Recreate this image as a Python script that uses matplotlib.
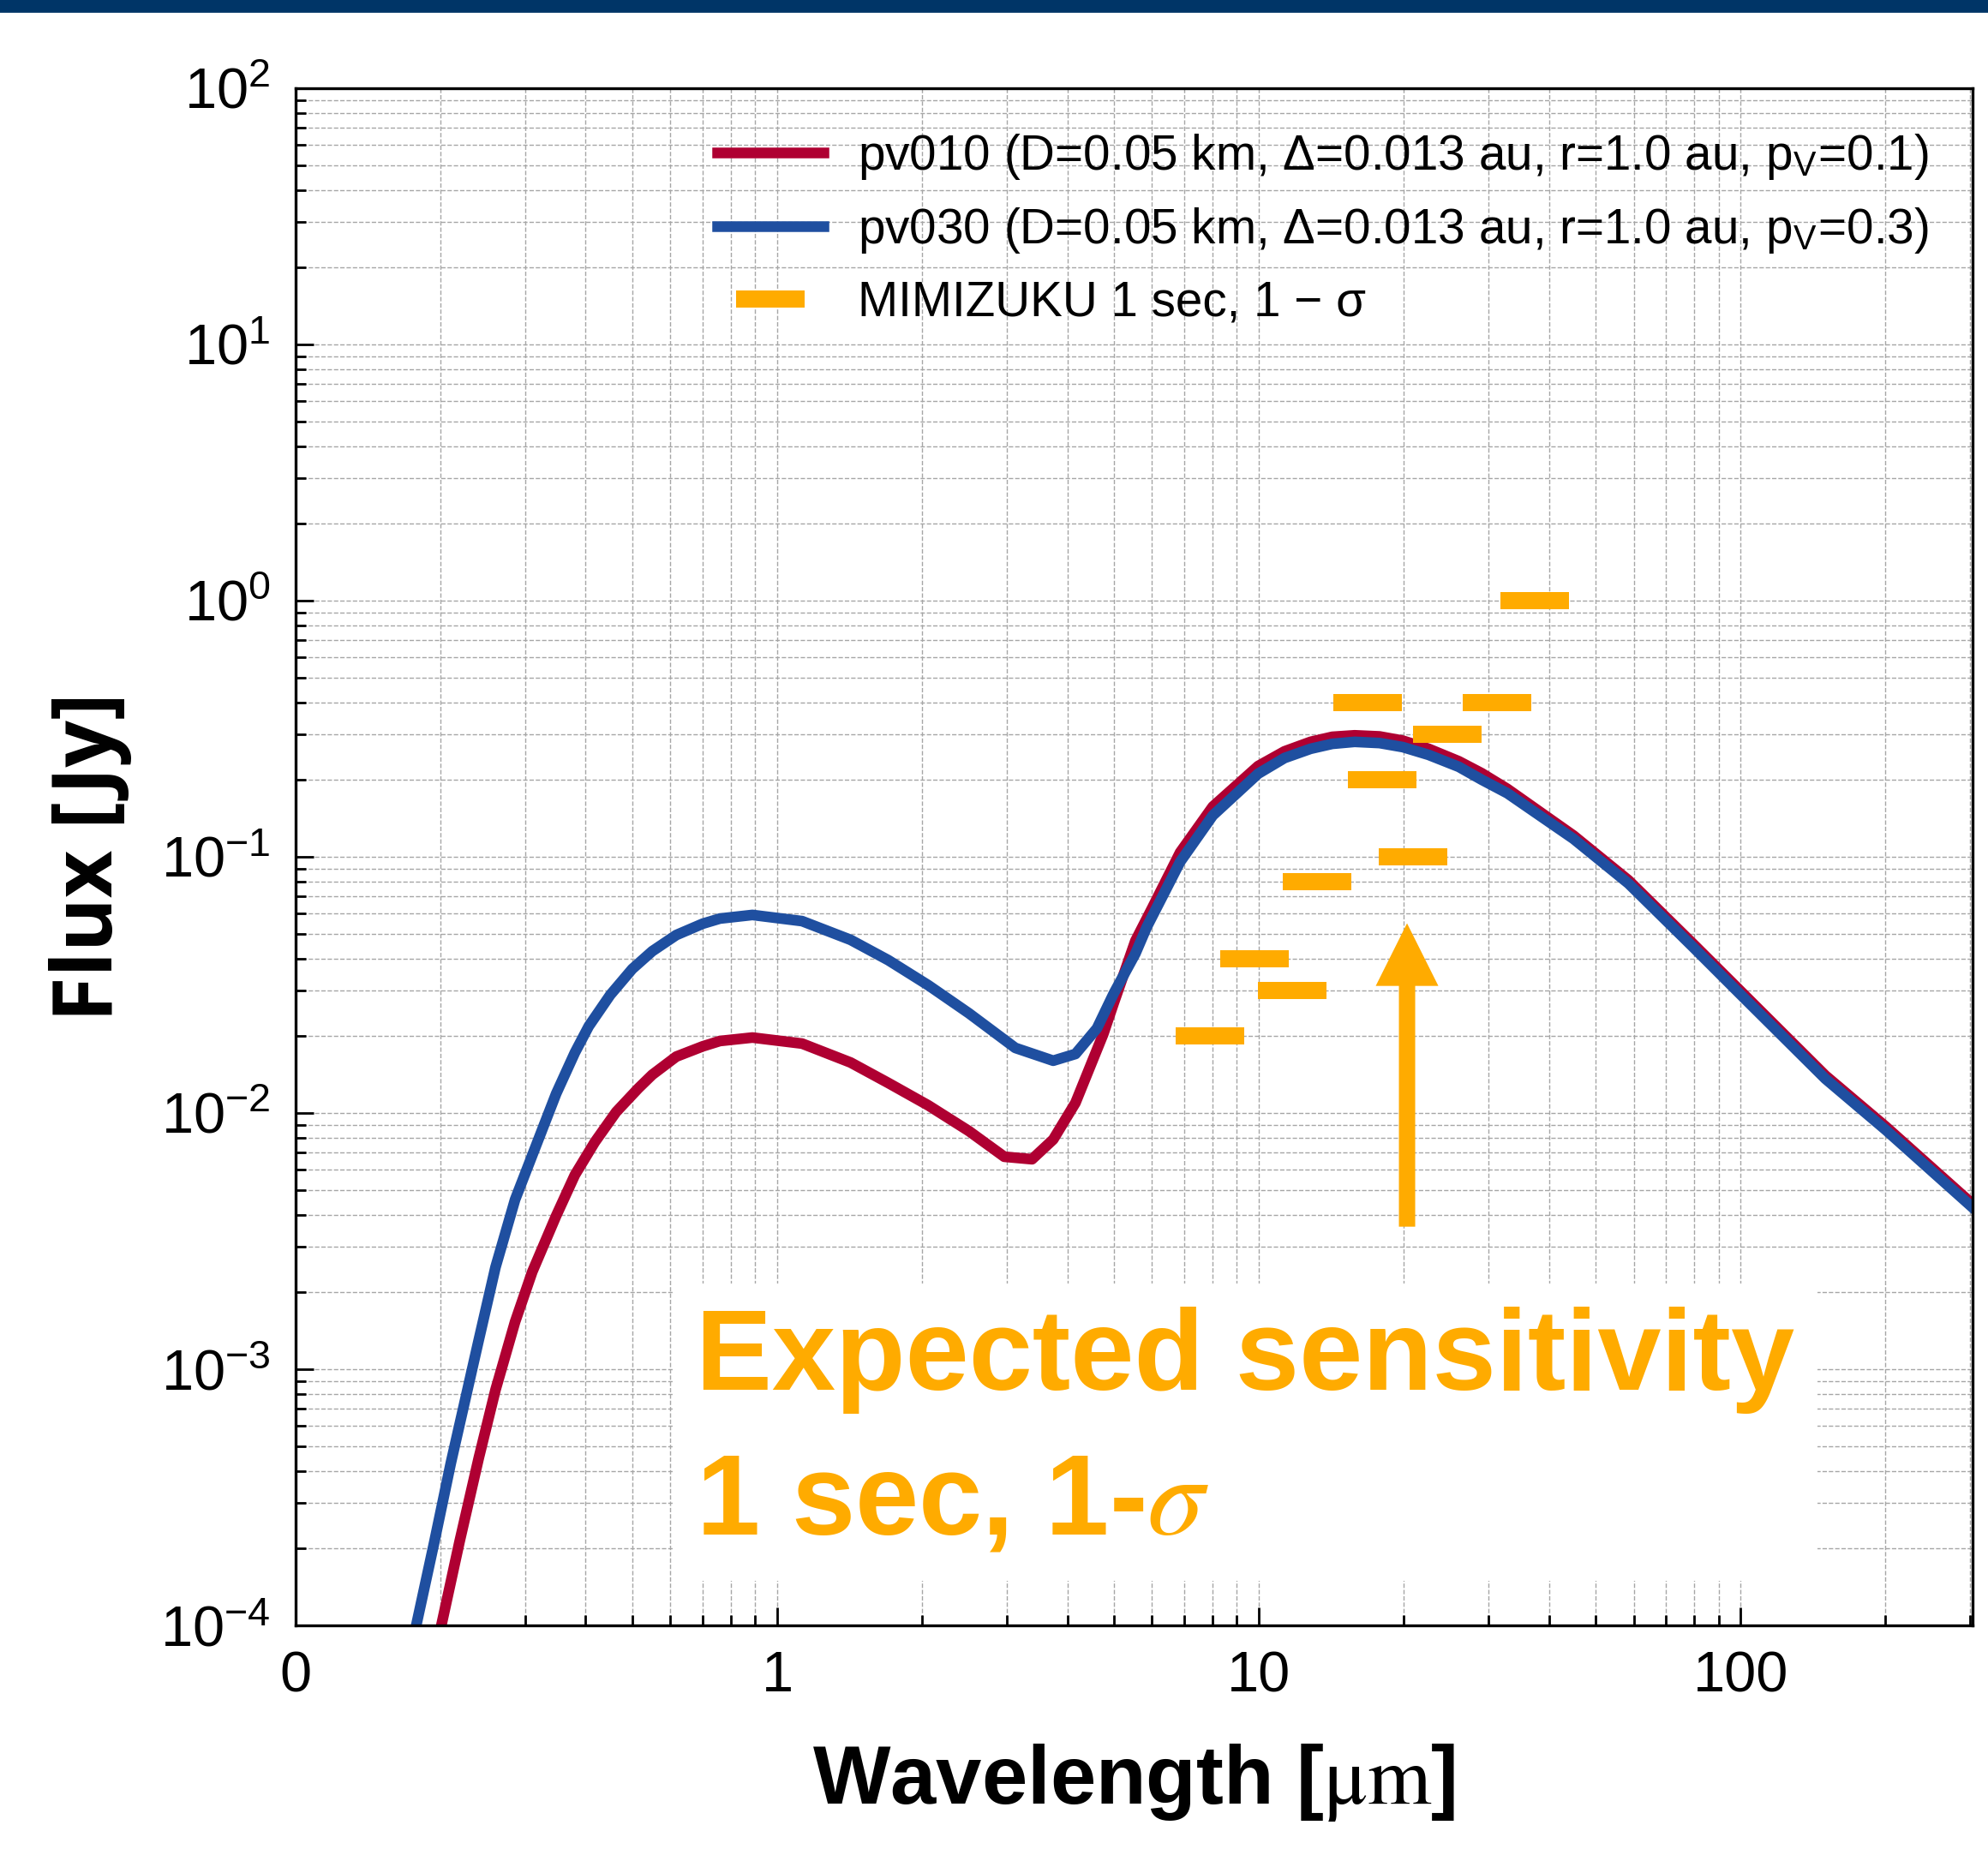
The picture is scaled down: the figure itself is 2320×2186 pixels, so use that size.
import numpy as np
import matplotlib
matplotlib.use('Agg')
import matplotlib.pyplot as plt
from matplotlib.patches import Rectangle
from matplotlib.ticker import FixedLocator, FixedFormatter, LogLocator, NullFormatter

plt.rcParams['font.family'] = ['Liberation Sans', 'DejaVu Sans']
plt.rcParams['mathtext.fontset'] = 'stix'

# model SEDs (wavelength in um, flux in Jy)
lam_pv010 = [0.19, 0.2007, 0.2188, 0.24, 0.26, 0.2855, 0.31, 0.3475, 0.38, 0.418,
             0.463, 0.515, 0.55, 0.617, 0.7, 0.76, 0.888, 1.126, 1.42, 1.7,
             2.06, 2.5, 2.96, 3.38, 3.74, 4.16, 4.75, 5.0, 5.54, 6.0,
             6.86, 8.02, 9.96, 11.3, 12.8, 14.2, 15.8, 17.8, 19.9, 22.5,
             26.0, 29.0, 32.8, 45.0, 58.5, 80.0, 100.0, 150.0, 200.0, 303.0, 320.0]
flux_pv010 = [6.1e-5, 1.0e-4, 2.11e-4, 4.5e-4, 8.3e-4, 1.53e-3, 2.4e-3, 3.97e-3, 5.73e-3, 7.7e-3,
              0.0101, 0.0125, 0.0141, 0.0166, 0.0182, 0.0191, 0.0197, 0.01866, 0.01574, 0.0131,
              0.0107, 0.0085, 0.00675, 0.0066, 0.00788, 0.01096, 0.0203, 0.027, 0.047, 0.063,
              0.104, 0.157, 0.226, 0.258, 0.281, 0.294, 0.298, 0.295, 0.284, 0.264,
              0.236, 0.212, 0.184, 0.121, 0.081, 0.0454, 0.0299, 0.014, 0.00886, 0.00441, 0.00402]

lam_pv030 = [0.17, 0.178, 0.194, 0.21, 0.24, 0.26, 0.2855, 0.3475, 0.38, 0.406,
             0.45, 0.5, 0.55, 0.617, 0.7, 0.76, 0.888, 1.126, 1.42, 1.7,
             2.06, 2.5, 3.12, 3.74, 4.16, 4.61, 5.0, 5.54, 5.85, 6.86,
             8.02, 9.96, 11.3, 12.8, 14.2, 15.8, 17.8, 19.9, 22.5, 26.0,
             29.0, 32.8, 45.0, 58.5, 80.0, 100.0, 150.0, 200.0, 303.0, 320.0]
flux_pv030 = [6.7e-5, 1.0e-4, 2.11e-4, 4.3e-4, 1.3e-3, 2.5e-3, 4.59e-3, 0.0119, 0.0172, 0.0218,
              0.0289, 0.0365, 0.0428, 0.0495, 0.0548, 0.0574, 0.0593, 0.0561, 0.0474, 0.0395,
              0.0315, 0.0245, 0.01795, 0.016, 0.017, 0.0214, 0.0294, 0.0419, 0.0532, 0.0955,
              0.145, 0.211, 0.243, 0.264, 0.276, 0.281, 0.278, 0.268, 0.25, 0.2245,
              0.2, 0.177, 0.1175, 0.0787, 0.0441, 0.029, 0.0136, 0.0086, 0.00428, 0.0039]

# MIMIZUKU 1 sec 1-sigma sensitivity
lam_mimizuku = [7.9, 9.8, 11.7, 13.2, 16.8, 18.0, 20.9, 24.6, 31.2, 37.3]
sens_mimizuku = [0.02, 0.04, 0.03, 0.08, 0.4, 0.2, 0.1, 0.3, 0.4, 1.0]

arrow_lam = 20.3
arrow_flux = [3.6e-3, 0.055]

labels = ['pv010 (D=0.05 km, Δ=0.013 au, r=1.0 au, p$_\\mathregular{V}$=0.1)',
          'pv030 (D=0.05 km, Δ=0.013 au, r=1.0 au, p$_\\mathregular{V}$=0.3)',
          'MIMIZUKU 1 sec, 1 − σ']

xtick_vals = [0.1, 1, 10, 100]
xtick_labels = ['0', '1', '10', '100']

red = '#AF0032'
blue = '#1F4FA0'
orange = '#FFAB00'

fig = plt.figure(figsize=(11.6, 10.93), dpi=200)
ax = fig.add_axes([0.1487, 0.1322, 0.8435, 0.8207])
fig.patches.append(Rectangle((0, 1 - 13 / 2186), 1, 13 / 2186, transform=fig.transFigure,
                             color='#003567', zorder=10))

ax.plot(lam_pv010, flux_pv010, color=red, lw=4.5, label=labels[0])
ax.plot(lam_pv030, flux_pv030, color=blue, lw=4.5, label=labels[1])
ax.plot(lam_mimizuku, sens_mimizuku, ls='none', marker='_', ms=29, mew=7.2,
        color=orange, label=labels[2])

ax.annotate('', xy=(arrow_lam, arrow_flux[1]), xytext=(arrow_lam, arrow_flux[0]),
            arrowprops=dict(arrowstyle='simple,head_length=1,head_width=1,tail_width=0.26',
                            mutation_scale=26.3, color=orange, lw=0, shrinkA=0, shrinkB=0))

ax.text(0.2386, 0.2074, 'Expected sensitivity\n1 sec, 1-$\\sigma$', transform=ax.transAxes,
        ha='left', va='top', fontsize=48, fontweight='bold', color=orange, linespacing=1.45,
        bbox=dict(boxstyle='square,pad=0.2', fc='white', ec='none'), zorder=5)

ax.set_xscale('log')
ax.set_yscale('log')
ax.set_xlim(0.1, 303)
ax.set_ylim(1e-4, 1e2)

ax.xaxis.set_major_locator(FixedLocator(xtick_vals))
ax.xaxis.set_major_formatter(FixedFormatter(xtick_labels))
for axis in (ax.xaxis, ax.yaxis):
    axis.set_minor_locator(LogLocator(base=10, subs=np.arange(2, 10), numticks=100))
    axis.set_minor_formatter(NullFormatter())
ax.yaxis.set_major_locator(LogLocator(base=10, numticks=100))

ax.tick_params(which='both', direction='in', top=False, right=False, labelsize=24, pad=10.5)
ax.tick_params(which='major', length=7.6, width=1.0)
ax.tick_params(which='minor', length=4.4, width=1.0)
for s in ax.spines.values():
    s.set_linewidth(1.2)

ax.grid(which='both', ls='--', lw=0.5, color='#a6a6a6')
ax.set_axisbelow(True)

ax.legend(loc='upper right', frameon=False, fontsize=20.4, handlelength=2.2,
          handletextpad=0.7, labelspacing=0.5, numpoints=1)

ax.set_xlabel('Wavelength [$\\mathrm{\\mu m}$]', fontsize=34.5, fontweight='bold', labelpad=16)
ax.set_ylabel('Flux [Jy]', fontsize=34.5, fontweight='bold', family='Open Sans', labelpad=12)

fig.savefig('out.png', dpi=200)
